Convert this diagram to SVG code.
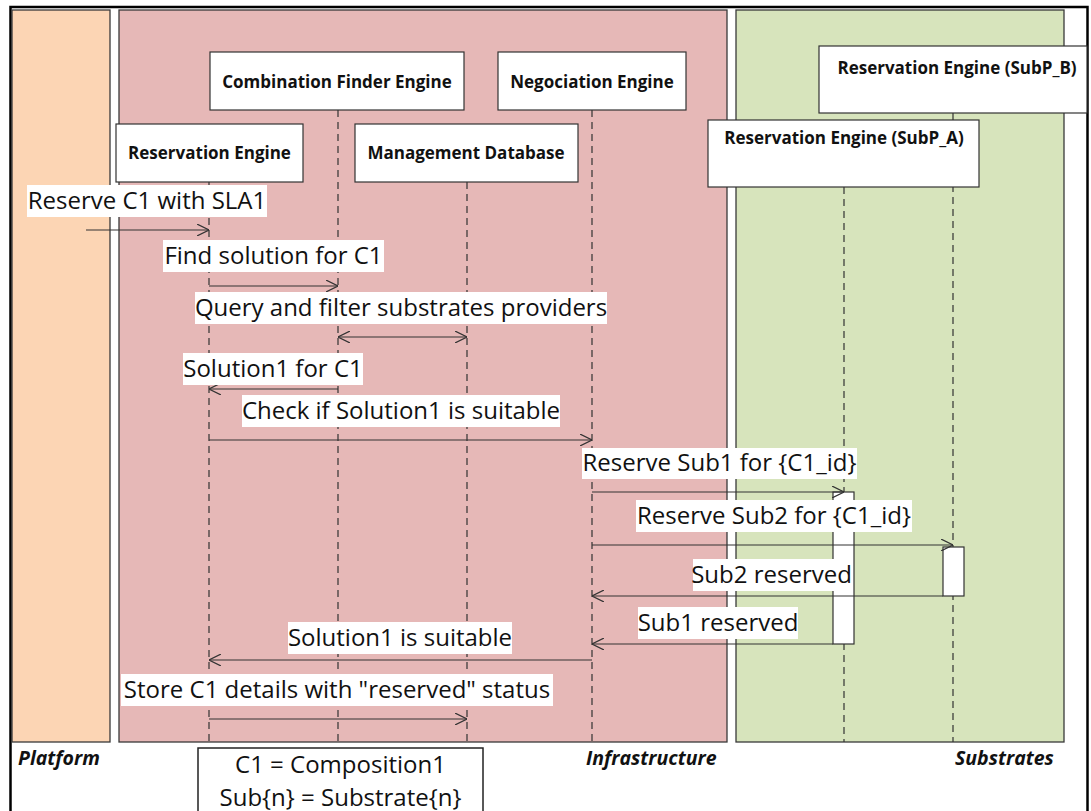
<svg xmlns="http://www.w3.org/2000/svg" width="1091" height="811" viewBox="0 0 1091 811">
<defs>
<style>
.panel{stroke:#3a3a3a;stroke-width:1.3}
.node{fill:#fff;stroke:#333;stroke-width:1.2}
.nt{font-family:"Open Sans","DejaVu Sans",sans-serif;font-weight:bold;font-size:17px;fill:#111;text-anchor:middle}
.life{stroke:#333;stroke-width:1.2;stroke-dasharray:7,5;fill:none}
.msg{stroke:#333;stroke-width:1.2;fill:none}
.lbg{fill:#fff}
.lt{font-family:"Open Sans","DejaVu Sans",sans-serif;font-size:24px;fill:#111;text-anchor:middle}
.zone{font-family:"Open Sans","DejaVu Sans",sans-serif;font-weight:bold;font-style:italic;font-size:19.5px;fill:#111}
.act{fill:#fff;stroke:#333;stroke-width:1.2}
</style>
<marker id="ah" viewBox="0 0 12 12" refX="12" refY="6" markerWidth="12" markerHeight="12" markerUnits="userSpaceOnUse" orient="auto-start-reverse">
<path d="M0,0 L12,6 L0,12" fill="none" stroke="#333" stroke-width="1.2"/>
</marker>
</defs>
<rect x="0" y="0" width="1091" height="811" fill="#fff"/>
<rect x="10.5" y="7" width="1077" height="820" fill="none" stroke="#000" stroke-width="2.5"/>
<g id="zones">
<rect class="panel" x="12" y="10" width="98" height="732" fill="#FCD5B4"/>
<rect class="panel" x="119" y="10" width="608" height="732" fill="#E6B8B7"/>
<rect class="panel" x="736" y="10" width="328" height="732" fill="#D7E4BC"/>
<text class="zone" x="18" y="765">Platform</text>
<text class="zone" x="586" y="765">Infrastructure</text>
<text class="zone" x="955" y="765">Substrates</text>
</g>
<g id="lifelines">
<line class="life" x1="209" y1="182" x2="209" y2="742"/>
<line class="life" x1="338" y1="110" x2="338" y2="742"/>
<line class="life" x1="467" y1="182" x2="467" y2="742"/>
<line class="life" x1="592" y1="110" x2="592" y2="742"/>
<line class="life" x1="844" y1="187" x2="844" y2="742"/>
<line class="life" x1="953" y1="113" x2="953" y2="742"/>
</g>
<g id="n-combination-finder">
<rect class="node" x="210" y="52" width="254" height="58"/>
<text class="nt" x="337" y="88">Combination Finder Engine</text>
</g>
<g id="n-negociation">
<rect class="node" x="498" y="52" width="188" height="58"/>
<text class="nt" x="592" y="88">Negociation Engine</text>
</g>
<g id="n-reservation">
<rect class="node" x="116" y="124" width="187" height="58"/>
<text class="nt" x="209.5" y="159">Reservation Engine</text>
</g>
<g id="n-management-db">
<rect class="node" x="355" y="124" width="223" height="58"/>
<text class="nt" x="466" y="159">Management Database</text>
</g>
<g id="n-subp-b">
<rect class="node" x="819" y="46" width="268" height="67"/>
<text class="nt" x="957" y="74">Reservation Engine (SubP_B)</text>
</g>
<g id="n-subp-a">
<rect class="node" x="708" y="120" width="271" height="67"/>
<text class="nt" x="844" y="144">Reservation Engine (SubP_A)</text>
</g>
<g id="activations">
<rect class="act" x="833" y="492" width="21" height="152"/>
<rect class="act" x="943" y="547" width="21" height="49"/>
</g>
<g id="connectors">
<line class="msg" x1="86" y1="230" x2="209" y2="230" marker-end="url(#ah)"/>
<line class="msg" x1="209" y1="286" x2="338" y2="286" marker-end="url(#ah)"/>
<line class="msg" x1="338" y1="337" x2="467" y2="337" marker-start="url(#ah)" marker-end="url(#ah)"/>
<line class="msg" x1="338" y1="389" x2="209" y2="389" marker-end="url(#ah)"/>
<line class="msg" x1="209" y1="440" x2="592" y2="440" marker-end="url(#ah)"/>
<line class="msg" x1="592" y1="492" x2="844" y2="492" marker-end="url(#ah)"/>
<line class="msg" x1="592" y1="545" x2="953" y2="545" marker-end="url(#ah)"/>
<line class="msg" x1="943" y1="596" x2="592" y2="596" marker-end="url(#ah)"/>
<line class="msg" x1="833" y1="644" x2="592" y2="644" marker-end="url(#ah)"/>
<line class="msg" x1="592" y1="660" x2="209" y2="660" marker-end="url(#ah)"/>
<line class="msg" x1="209" y1="719" x2="467" y2="719" marker-end="url(#ah)"/>
</g>
<g id="labels">
<rect class="lbg" x="27" y="185" width="240" height="32"/>
<text class="lt" x="147" y="209">Reserve C1 with SLA1</text>
<rect class="lbg" x="163" y="240" width="221" height="32"/>
<text class="lt" x="273.5" y="264">Find solution for C1</text>
<rect class="lbg" x="195" y="292" width="412" height="32"/>
<text class="lt" x="401" y="316">Query and filter substrates providers</text>
<rect class="lbg" x="183" y="353" width="180" height="32"/>
<text class="lt" x="273" y="377">Solution1 for C1</text>
<rect class="lbg" x="242" y="395" width="318" height="32"/>
<text class="lt" x="401" y="419">Check if Solution1 is suitable</text>
<rect class="lbg" x="582" y="448" width="275" height="31"/>
<text class="lt" x="719.5" y="471">Reserve Sub1 for {C1_id}</text>
<rect class="lbg" x="636" y="500" width="276" height="32"/>
<text class="lt" x="774" y="524">Reserve Sub2 for {C1_id}</text>
<rect class="lbg" x="693" y="559" width="157" height="32"/>
<text class="lt" x="771.5" y="583">Sub2 reserved</text>
<rect class="lbg" x="638" y="607" width="160" height="32"/>
<text class="lt" x="718" y="631">Sub1 reserved</text>
<rect class="lbg" x="288" y="622" width="224" height="32"/>
<text class="lt" x="400" y="646">Solution1 is suitable</text>
<rect class="lbg" x="121" y="674" width="432" height="32"/>
<text class="lt" x="337" y="698">Store C1 details with "reserved" status</text>
</g>
<g id="legend">
<rect x="198" y="748" width="285" height="80" fill="#fff" stroke="#222" stroke-width="1.5"/>
<text class="lt" x="340.5" y="773" font-size="23.3">C1 = Composition1</text>
<text class="lt" x="340.5" y="806" font-size="23.3">Sub{n} = Substrate{n}</text>
</g>
</svg>
